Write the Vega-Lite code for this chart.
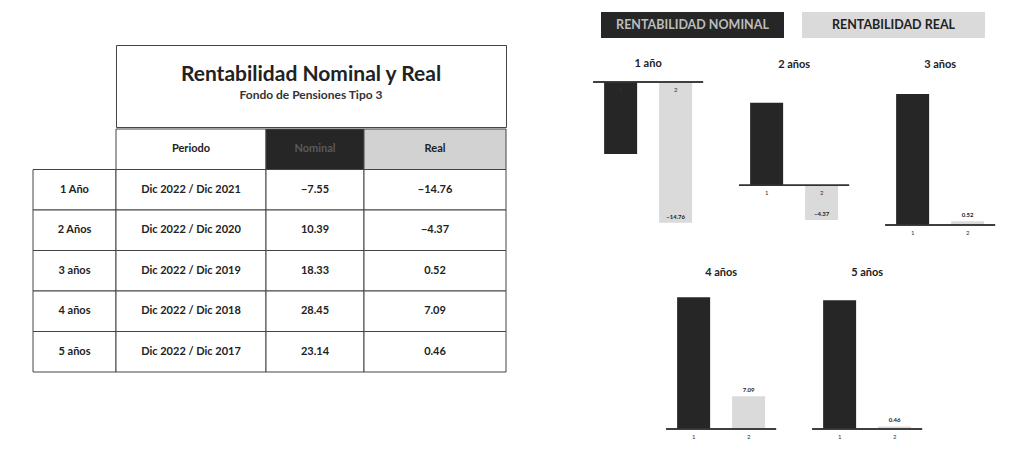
{
  "$schema": "https://vega.github.io/schema/vega-lite/v6.json",
  "background": "white",
  "padding": {"left": 32, "top": 12, "right": 0, "bottom": 0},
  "config": {
    "view": {"stroke": null},
    "font": "Lato",
    "title": {"font": "Lato", "fontSize": 11, "fontWeight": "bold", "color": "#222", "offset": 12},
    "text": {"font": "Lato"}
  },
  "datasets": {
    "tabla": [
      {"plazo": "1 Año", "periodo": "Dic 2022 / Dic 2021", "nominal": -7.55, "real": -14.76},
      {"plazo": "2 Años", "periodo": "Dic 2022 / Dic 2020", "nominal": 10.39, "real": -4.37},
      {"plazo": "3 años", "periodo": "Dic 2022 / Dic 2019", "nominal": 18.33, "real": 0.52},
      {"plazo": "4 años", "periodo": "Dic 2022 / Dic 2018", "nominal": 28.45, "real": 7.09},
      {"plazo": "5 años", "periodo": "Dic 2022 / Dic 2017", "nominal": 23.14, "real": 0.46}
    ],
    "barras": [
      {"grafico": "1 año", "serie": "1", "valor": -7.55},
      {"grafico": "1 año", "serie": "2", "valor": -14.76},
      {"grafico": "2 años", "serie": "1", "valor": 10.39},
      {"grafico": "2 años", "serie": "2", "valor": -4.37},
      {"grafico": "3 años", "serie": "1", "valor": 18.33},
      {"grafico": "3 años", "serie": "2", "valor": 0.52},
      {"grafico": "4 años", "serie": "1", "valor": 28.45},
      {"grafico": "4 años", "serie": "2", "valor": 7.09},
      {"grafico": "5 años", "serie": "1", "valor": 23.14},
      {"grafico": "5 años", "serie": "2", "valor": 0.46}
    ]
  },
  "spacing": 85,
  "hconcat": [
    {
      "spacing": 0,
      "vconcat": [
        {"width": 473, "height": 32, "data": {"values": [{}]}, "mark": {"type": "text", "text": ""}},
        {
          "spacing": 0,
          "bounds": "flush",
          "hconcat": [
            {"width": 83, "height": 82, "data": {"values": [{}]}, "mark": {"type": "text", "text": ""}},
            {
              "width": 390, "height": 82,
              "view": {"stroke": "#444", "strokeWidth": 1},
              "data": {"values": [{"titulo": "Rentabilidad Nominal y Real", "subtitulo": "Fondo de Pensiones Tipo 3"}]},
              "layer": [
                {"mark": {"type": "text", "fontSize": 21, "fontWeight": "bold", "dy": -11, "color": "#222"}, "encoding": {"text": {"field": "titulo"}}},
                {"mark": {"type": "text", "fontSize": 12, "fontWeight": "bold", "dy": 9, "color": "#333"}, "encoding": {"text": {"field": "subtitulo"}}}
              ]
            }
          ]
        },
        {
          "spacing": 0,
          "bounds": "flush",
          "hconcat": [
            {
              "width": 83, "height": 243,
              "data": {"name": "tabla"},
              "layer": [
                {"mark": {"type": "rect", "fill": "white", "stroke": "#444", "strokeWidth": 1},
                 "encoding": {"y": {"field": "plazo", "type": "nominal", "axis": null, "scale": {"domain": ["Encabezado", "1 Año", "2 Años", "3 años", "4 años", "5 años"], "paddingInner": 0, "paddingOuter": 0}}}},
                {"mark": {"type": "text", "fontSize": 11, "fontWeight": "bold", "color": "#222"},
                 "encoding": {"y": {"field": "plazo", "type": "nominal", "axis": null}, "text": {"field": "plazo"}}}
              ]
            },
            {
              "width": 150, "height": 243,
              "data": {"name": "tabla"},
              "layer": [
                {"data": {"values": [{"plazo": "Encabezado", "texto": "Periodo"}]},
                 "mark": {"type": "rect", "fill": "white", "stroke": "#444", "strokeWidth": 1},
                 "encoding": {"y": {"field": "plazo", "type": "nominal", "axis": null, "scale": {"domain": ["Encabezado", "1 Año", "2 Años", "3 años", "4 años", "5 años"], "paddingInner": 0, "paddingOuter": 0}}}},
                {"data": {"values": [{"plazo": "Encabezado", "texto": "Periodo"}]},
                 "mark": {"type": "text", "fontSize": 11, "fontWeight": "bold", "color": "#222"},
                 "encoding": {"y": {"field": "plazo", "type": "nominal", "axis": null}, "text": {"field": "texto"}}},
                {"mark": {"type": "rect", "fill": "white", "stroke": "#444", "strokeWidth": 1},
                 "encoding": {"y": {"field": "plazo", "type": "nominal", "axis": null}}},
                {"mark": {"type": "text", "fontSize": 11, "fontWeight": "bold", "color": "#222"},
                 "encoding": {"y": {"field": "plazo", "type": "nominal", "axis": null}, "text": {"field": "periodo"}}}
              ]
            },
            {
              "width": 98, "height": 243,
              "data": {"name": "tabla"},
              "layer": [
                {"data": {"values": [{"plazo": "Encabezado", "texto": "Nominal"}]},
                 "mark": {"type": "rect", "fill": "#262626", "stroke": "#444", "strokeWidth": 1},
                 "encoding": {"y": {"field": "plazo", "type": "nominal", "axis": null, "scale": {"domain": ["Encabezado", "1 Año", "2 Años", "3 años", "4 años", "5 años"], "paddingInner": 0, "paddingOuter": 0}}}},
                {"data": {"values": [{"plazo": "Encabezado", "texto": "Nominal"}]},
                 "mark": {"type": "text", "fontSize": 11, "fontWeight": "bold", "color": "#5a5a5a"},
                 "encoding": {"y": {"field": "plazo", "type": "nominal", "axis": null}, "text": {"field": "texto"}}},
                {"mark": {"type": "rect", "fill": "white", "stroke": "#444", "strokeWidth": 1},
                 "encoding": {"y": {"field": "plazo", "type": "nominal", "axis": null}}},
                {"mark": {"type": "text", "fontSize": 11, "fontWeight": "bold", "color": "#222"},
                 "encoding": {"y": {"field": "plazo", "type": "nominal", "axis": null}, "text": {"field": "nominal", "type": "quantitative", "format": ".2f"}}}
              ]
            },
            {
              "width": 142, "height": 243,
              "data": {"name": "tabla"},
              "layer": [
                {"data": {"values": [{"plazo": "Encabezado", "texto": "Real"}]},
                 "mark": {"type": "rect", "fill": "#d2d2d2", "stroke": "#444", "strokeWidth": 1},
                 "encoding": {"y": {"field": "plazo", "type": "nominal", "axis": null, "scale": {"domain": ["Encabezado", "1 Año", "2 Años", "3 años", "4 años", "5 años"], "paddingInner": 0, "paddingOuter": 0}}}},
                {"data": {"values": [{"plazo": "Encabezado", "texto": "Real"}]},
                 "mark": {"type": "text", "fontSize": 11, "fontWeight": "bold", "color": "#222"},
                 "encoding": {"y": {"field": "plazo", "type": "nominal", "axis": null}, "text": {"field": "texto"}}},
                {"mark": {"type": "rect", "fill": "white", "stroke": "#444", "strokeWidth": 1},
                 "encoding": {"y": {"field": "plazo", "type": "nominal", "axis": null}}},
                {"mark": {"type": "text", "fontSize": 11, "fontWeight": "bold", "color": "#222"},
                 "encoding": {"y": {"field": "plazo", "type": "nominal", "axis": null}, "text": {"field": "real", "type": "quantitative", "format": ".2f"}}}
              ]
            }
          ]
        }
      ]
    },
    {
      "spacing": 20,
      "vconcat": [
        {
          "width": 392, "height": 26,
          "data": {"values": [{"k": "RENTABILIDAD NOMINAL"}, {"k": "RENTABILIDAD REAL"}]},
          "layer": [
            {"mark": {"type": "rect"},
             "encoding": {
               "x": {"field": "k", "type": "nominal", "axis": null, "scale": {"paddingInner": 0.0896, "paddingOuter": 0.0199, "align": 1}},
               "color": {"field": "k", "type": "nominal", "legend": null, "scale": {"domain": ["RENTABILIDAD NOMINAL", "RENTABILIDAD REAL"], "range": ["#262626", "#dadada"]}}}},
            {"mark": {"type": "text", "fontSize": 12.5, "fontWeight": "bold"},
             "encoding": {
               "x": {"field": "k", "type": "nominal", "axis": null},
               "text": {"field": "k"},
               "color": {"condition": {"test": "datum.k === 'RENTABILIDAD NOMINAL'", "value": "#bdbdbd"}, "value": "#222"}}}
          ]
        },
        {
          "spacing": 31,
          "center": true,
          "vconcat": [
            {
              "spacing": 34,
              "hconcat": [
                {
                  "width": 110, "height": 143, "title": {"text": "1 año"},
                  "data": {"name": "barras"},
                  "transform": [{"filter": {"field": "grafico", "equal": "1 año"}}],
                  "layer": [
                    {"mark": {"type": "bar"},
                     "encoding": {
                       "x": {"field": "serie", "type": "nominal", "axis": null, "scale": {"paddingInner": 0.4, "paddingOuter": 0.2}},
                       "y": {"field": "valor", "type": "quantitative", "axis": null, "scale": {"domain": [-15, 0], "nice": false, "zero": false}},
                       "color": {"field": "serie", "type": "nominal", "legend": null, "scale": {"domain": ["1", "2"], "range": ["#2a2a2a", "#d6d6d6"]}}}},
                    {"mark": {"type": "rule", "color": "#333", "strokeWidth": 1.5}, "encoding": {"y": {"datum": 0}}},
                    {"mark": {"type": "text", "fontSize": 6, "dy": 8, "color": "#333"},
                     "encoding": {"x": {"field": "serie", "type": "nominal", "axis": null}, "y": {"datum": 0}, "text": {"field": "serie"}}},
                    {"transform": [{"filter": "datum.serie == '2'"}],
                     "mark": {"type": "text", "fontSize": 6, "fontWeight": "bold", "dy": -6, "color": "#222"},
                     "encoding": {"x": {"field": "serie", "type": "nominal", "axis": null}, "y": {"field": "valor", "type": "quantitative"}, "text": {"field": "valor", "type": "quantitative", "format": ".2f"}}}
                  ]
                },
                {
                  "width": 110, "height": 143, "title": {"text": "2 años"},
                  "data": {"name": "barras"},
                  "transform": [{"filter": {"field": "grafico", "equal": "2 años"}}],
                  "layer": [
                    {"mark": {"type": "bar"},
                     "encoding": {
                       "x": {"field": "serie", "type": "nominal", "axis": null, "scale": {"paddingInner": 0.4, "paddingOuter": 0.2}},
                       "y": {"field": "valor", "type": "quantitative", "axis": null, "scale": {"domain": [-5, 13], "nice": false, "zero": false}},
                       "color": {"field": "serie", "type": "nominal", "legend": null, "scale": {"domain": ["1", "2"], "range": ["#2a2a2a", "#d6d6d6"]}}}},
                    {"mark": {"type": "rule", "color": "#333", "strokeWidth": 1.5}, "encoding": {"y": {"datum": 0}}},
                    {"mark": {"type": "text", "fontSize": 6, "dy": 8, "color": "#333"},
                     "encoding": {"x": {"field": "serie", "type": "nominal", "axis": null}, "y": {"datum": 0}, "text": {"field": "serie"}}},
                    {"transform": [{"filter": "datum.serie == '2'"}],
                     "mark": {"type": "text", "fontSize": 6, "fontWeight": "bold", "dy": -6, "color": "#222"},
                     "encoding": {"x": {"field": "serie", "type": "nominal", "axis": null}, "y": {"field": "valor", "type": "quantitative"}, "text": {"field": "valor", "type": "quantitative", "format": ".2f"}}}
                  ]
                },
                {
                  "width": 110, "height": 143, "title": {"text": "3 años"},
                  "data": {"name": "barras"},
                  "transform": [{"filter": {"field": "grafico", "equal": "3 años"}}],
                  "layer": [
                    {"mark": {"type": "bar"},
                     "encoding": {
                       "x": {"field": "serie", "type": "nominal", "axis": null, "scale": {"paddingInner": 0.4, "paddingOuter": 0.2}},
                       "y": {"field": "valor", "type": "quantitative", "axis": null, "scale": {"domain": [0, 20], "nice": false, "zero": false}},
                       "color": {"field": "serie", "type": "nominal", "legend": null, "scale": {"domain": ["1", "2"], "range": ["#2a2a2a", "#d6d6d6"]}}}},
                    {"mark": {"type": "rule", "color": "#333", "strokeWidth": 1.5}, "encoding": {"y": {"datum": 0}}},
                    {"mark": {"type": "text", "fontSize": 6, "dy": 8, "color": "#333"},
                     "encoding": {"x": {"field": "serie", "type": "nominal", "axis": null}, "y": {"datum": 0}, "text": {"field": "serie"}}},
                    {"transform": [{"filter": "datum.serie == '2'"}],
                     "mark": {"type": "text", "fontSize": 6, "fontWeight": "bold", "dy": -6, "color": "#222"},
                     "encoding": {"x": {"field": "serie", "type": "nominal", "axis": null}, "y": {"field": "valor", "type": "quantitative"}, "text": {"field": "valor", "type": "quantitative", "format": ".2f"}}}
                  ]
                }
              ]
            },
            {
              "spacing": 34,
              "hconcat": [
                {
                  "width": 110, "height": 139, "title": {"text": "4 años"},
                  "data": {"name": "barras"},
                  "transform": [{"filter": {"field": "grafico", "equal": "4 años"}}],
                  "layer": [
                    {"mark": {"type": "bar"},
                     "encoding": {
                       "x": {"field": "serie", "type": "nominal", "axis": null, "scale": {"paddingInner": 0.4, "paddingOuter": 0.2}},
                       "y": {"field": "valor", "type": "quantitative", "axis": null, "scale": {"domain": [0, 30], "nice": false, "zero": false}},
                       "color": {"field": "serie", "type": "nominal", "legend": null, "scale": {"domain": ["1", "2"], "range": ["#2a2a2a", "#d6d6d6"]}}}},
                    {"mark": {"type": "rule", "color": "#333", "strokeWidth": 1.5}, "encoding": {"y": {"datum": 0}}},
                    {"mark": {"type": "text", "fontSize": 6, "dy": 8, "color": "#333"},
                     "encoding": {"x": {"field": "serie", "type": "nominal", "axis": null}, "y": {"datum": 0}, "text": {"field": "serie"}}},
                    {"transform": [{"filter": "datum.serie == '2'"}],
                     "mark": {"type": "text", "fontSize": 6, "fontWeight": "bold", "dy": -6, "color": "#222"},
                     "encoding": {"x": {"field": "serie", "type": "nominal", "axis": null}, "y": {"field": "valor", "type": "quantitative"}, "text": {"field": "valor", "type": "quantitative", "format": ".2f"}}}
                  ]
                },
                {
                  "width": 110, "height": 139, "title": {"text": "5 años"},
                  "data": {"name": "barras"},
                  "transform": [{"filter": {"field": "grafico", "equal": "5 años"}}],
                  "layer": [
                    {"mark": {"type": "bar"},
                     "encoding": {
                       "x": {"field": "serie", "type": "nominal", "axis": null, "scale": {"paddingInner": 0.4, "paddingOuter": 0.2}},
                       "y": {"field": "valor", "type": "quantitative", "axis": null, "scale": {"domain": [0, 25], "nice": false, "zero": false}},
                       "color": {"field": "serie", "type": "nominal", "legend": null, "scale": {"domain": ["1", "2"], "range": ["#2a2a2a", "#d6d6d6"]}}}},
                    {"mark": {"type": "rule", "color": "#333", "strokeWidth": 1.5}, "encoding": {"y": {"datum": 0}}},
                    {"mark": {"type": "text", "fontSize": 6, "dy": 8, "color": "#333"},
                     "encoding": {"x": {"field": "serie", "type": "nominal", "axis": null}, "y": {"datum": 0}, "text": {"field": "serie"}}},
                    {"transform": [{"filter": "datum.serie == '2'"}],
                     "mark": {"type": "text", "fontSize": 6, "fontWeight": "bold", "dy": -6, "color": "#222"},
                     "encoding": {"x": {"field": "serie", "type": "nominal", "axis": null}, "y": {"field": "valor", "type": "quantitative"}, "text": {"field": "valor", "type": "quantitative", "format": ".2f"}}}
                  ]
                }
              ]
            }
          ]
        }
      ]
    }
  ]
}
